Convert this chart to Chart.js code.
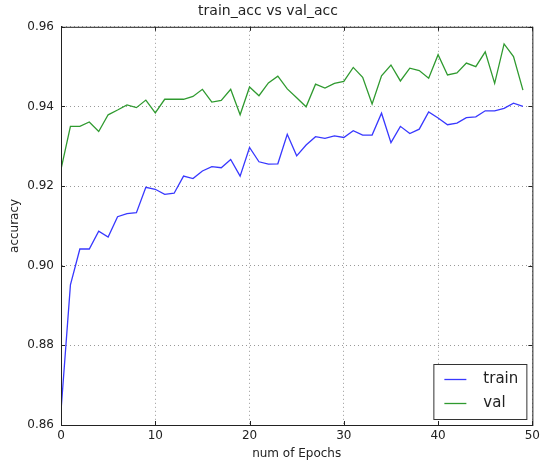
<!DOCTYPE html>
<html>
<head>
<meta charset="utf-8">
<script src="https://cdn.jsdelivr.net/npm/chart.js@4"></script>
<style>
  html, body { margin: 0; padding: 0; background: #fff; }
  #wrap { width: 544px; height: 463px; }
</style>
</head>
<body>
<div id="wrap"><canvas id="accChart" width="544" height="463"></canvas></div>
<script>
// accuracy per epoch
const epochs = Array.from({ length: 50 }, (_, i) => i);
const trainAcc = [
  0.8635, 0.8952, 0.9042, 0.9042, 0.9087, 0.9072, 0.9123, 0.9131, 0.9133, 0.9197,
  0.9192, 0.9179, 0.9182, 0.9225, 0.9219, 0.9238, 0.9249, 0.9246, 0.9267, 0.9225,
  0.9297, 0.9261, 0.9255, 0.9256, 0.9330, 0.9276, 0.9303, 0.9324, 0.9320, 0.9326,
  0.9322, 0.9339, 0.9328, 0.9328, 0.9383, 0.9309, 0.9350, 0.9332, 0.9343, 0.9386,
  0.9371, 0.9354, 0.9358, 0.9372, 0.9374, 0.9389, 0.9389, 0.9395, 0.9408, 0.9400
];
const valAcc = [
  0.9242, 0.9350, 0.9350, 0.9361, 0.9337, 0.9379, 0.9391, 0.9404, 0.9397, 0.9416,
  0.9384, 0.9418, 0.9418, 0.9418, 0.9425, 0.9443, 0.9411, 0.9415, 0.9443, 0.9379,
  0.9449, 0.9427, 0.9459, 0.9476, 0.9444, 0.9422, 0.9399, 0.9456, 0.9446, 0.9458,
  0.9463, 0.9498, 0.9473, 0.9406, 0.9477, 0.9504, 0.9464, 0.9496, 0.9490, 0.9471,
  0.9530, 0.9479, 0.9484, 0.9509, 0.9500, 0.9537, 0.9458, 0.9557, 0.9525, 0.9441
];
const seriesNames = ['train', 'val'];
const seriesColors = ['#3838ff', '#2f9a2f'];

const FONT = 'DejaVu Sans';

// box round the plot area, small inward ticks, and the matplotlib-style legend
const framePlugin = {
  id: 'frame',
  afterDraw(chart) {
    const { ctx, chartArea: a, scales } = chart;
    ctx.save();
    ctx.strokeStyle = '#222';
    ctx.lineWidth = 1;
    ctx.strokeRect(a.left + 0.5, a.top + 0.5, a.right - a.left, a.bottom - a.top);

    // inward tick marks on all four sides
    ctx.beginPath();
    scales.x.ticks.forEach(t => {
      const px = Math.round(scales.x.getPixelForValue(t.value)) + 0.5;
      ctx.moveTo(px, a.bottom); ctx.lineTo(px, a.bottom - 4);
      ctx.moveTo(px, a.top); ctx.lineTo(px, a.top + 4);
    });
    scales.y.ticks.forEach(t => {
      const py = Math.round(scales.y.getPixelForValue(t.value)) + 0.5;
      ctx.moveTo(a.left, py); ctx.lineTo(a.left + 4, py);
      ctx.moveTo(a.right, py); ctx.lineTo(a.right - 4, py);
    });
    ctx.stroke();

    // legend box, lower right
    const w = 93, h = 55;
    const x = a.right - 99, y = a.bottom - 61;
    ctx.fillStyle = '#fff';
    ctx.fillRect(x, y, w, h);
    ctx.strokeStyle = '#333';
    ctx.strokeRect(x + 0.5, y + 0.5, w, h);
    ctx.font = '15px "' + FONT + '"';
    ctx.textBaseline = 'middle';
    chart.data.datasets.forEach((ds, i) => {
      const ly = y + 15 + i * 24;
      ctx.strokeStyle = ds.borderColor;
      ctx.lineWidth = 1.3;
      ctx.beginPath();
      ctx.moveTo(x + 11, ly + 0.5);
      ctx.lineTo(x + 33, ly + 0.5);
      ctx.stroke();
      ctx.fillStyle = '#222';
      ctx.fillText(ds.label, x + 50, ly);
    });
    ctx.restore();
  }
};

new Chart(document.getElementById('accChart'), {
  type: 'line',
  data: {
    datasets: [
      {
        label: seriesNames[0],
        data: epochs.map((e, i) => ({ x: e, y: trainAcc[i] })),
        borderColor: seriesColors[0],
        borderWidth: 1.3,
        pointRadius: 0,
        tension: 0,
        fill: false
      },
      {
        label: seriesNames[1],
        data: epochs.map((e, i) => ({ x: e, y: valAcc[i] })),
        borderColor: seriesColors[1],
        borderWidth: 1.3,
        pointRadius: 0,
        tension: 0,
        fill: false
      }
    ]
  },
  options: {
    responsive: false,
    animation: false,
    layout: { padding: { left: 0, right: 8, top: 0, bottom: 0 } },
    plugins: {
      legend: { display: false },
      tooltip: { enabled: false },
      title: {
        display: true,
        text: 'train_acc vs val_acc',
        color: '#222',
        font: { family: FONT, size: 14, weight: 'normal' },
        padding: { top: 3, bottom: 7 }
      }
    },
    scales: {
      x: {
        type: 'linear',
        min: 0,
        max: 50,
        afterFit(scale) { scale.height = 38; },
        ticks: {
          stepSize: 10,
          padding: 4,
          color: '#222',
          font: { family: FONT, size: 12 },
          maxRotation: 0
        },
        grid: { color: '#999', drawTicks: false, lineWidth: 1 },
        border: { display: true, color: '#222', dash: [1, 3] },
        title: {
          display: true,
          text: 'num of Epochs',
          color: '#222',
          font: { family: FONT, size: 12 },
          padding: { top: 0, bottom: 2 }
        }
      },
      y: {
        min: 0.86,
        max: 0.96,
        afterFit(scale) { scale.width = 61; },
        ticks: {
          stepSize: 0.02,
          padding: 7,
          color: '#222',
          font: { family: FONT, size: 12 },
          callback: v => v.toFixed(2)
        },
        grid: { color: '#999', drawTicks: false, lineWidth: 1 },
        border: { display: true, color: '#222', dash: [1, 3] },
        title: {
          display: true,
          text: 'accuracy',
          color: '#222',
          font: { family: FONT, size: 12 },
          padding: { top: 8, bottom: 0 }
        }
      }
    }
  },
  plugins: [framePlugin]
});
</script>
</body>
</html>
